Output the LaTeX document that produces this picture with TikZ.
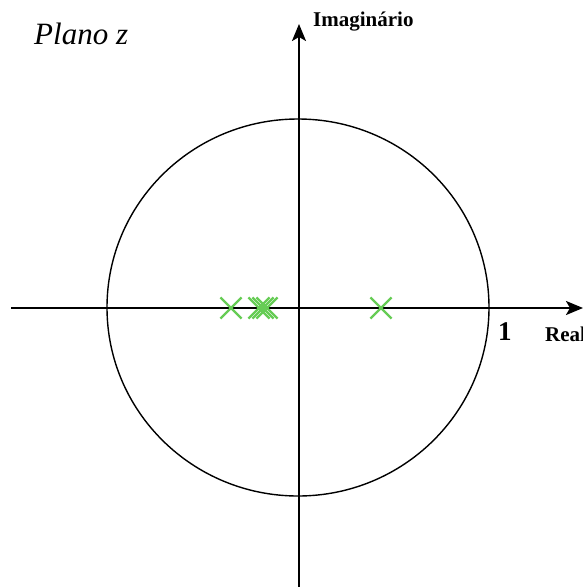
\documentclass[tikz,border=0pt]{standalone}
\usepackage{fontspec}
\setmainfont{Liberation Serif}
\usetikzlibrary{arrows.meta,shapes.misc}
\definecolor{polegreen}{RGB}{102,204,85}
\tikzset{
  axis/.style={line width=2.2pt,-{Stealth[length=17pt,width=14pt,inset=4pt]}},
  unitcircle/.style={line width=1.4pt},
  pole/.style={draw=polegreen,line width=2.2pt,cross out,minimum size=19pt,inner sep=0pt},
  lbl/.style={inner sep=0pt,anchor=base west}
}
\begin{document}
\begin{tikzpicture}[x=1pt,y=-1pt]
\useasboundingbox (0,0) rectangle (583,587);
\coordinate (xs) at (11,308);
\coordinate (xe) at (583,308);
\coordinate (ys) at (299,587);
\coordinate (ye) at (299,24);
\coordinate (o) at (298,307.5);
\draw[unitcircle] (o) ellipse [x radius=191, y radius=188.5];
\draw[axis] (xs) -- (xe);
\draw[axis] (ys) -- (ye);
\node[pole] (p1) at (231,308) {};
\node[pole] (p2) at (259,308) {};
\node[pole] (p3) at (263,308) {};
\node[pole] (p4) at (267,308) {};
\node[pole] (p5) at (381,308) {};
\node[lbl,font=\itshape\fontsize{31}{36}\selectfont] (plano) at (34,44) {Plano z};
\node[lbl,font=\bfseries\fontsize{21}{25}\selectfont] (imag) at (313,26) {Imaginário};
\node[lbl,font=\bfseries\fontsize{27}{31}\selectfont] (one) at (498,340) {1};
\node[lbl,font=\bfseries\fontsize{21}{25}\selectfont] (real) at (545,341) {Real};
\end{tikzpicture}
\end{document}
